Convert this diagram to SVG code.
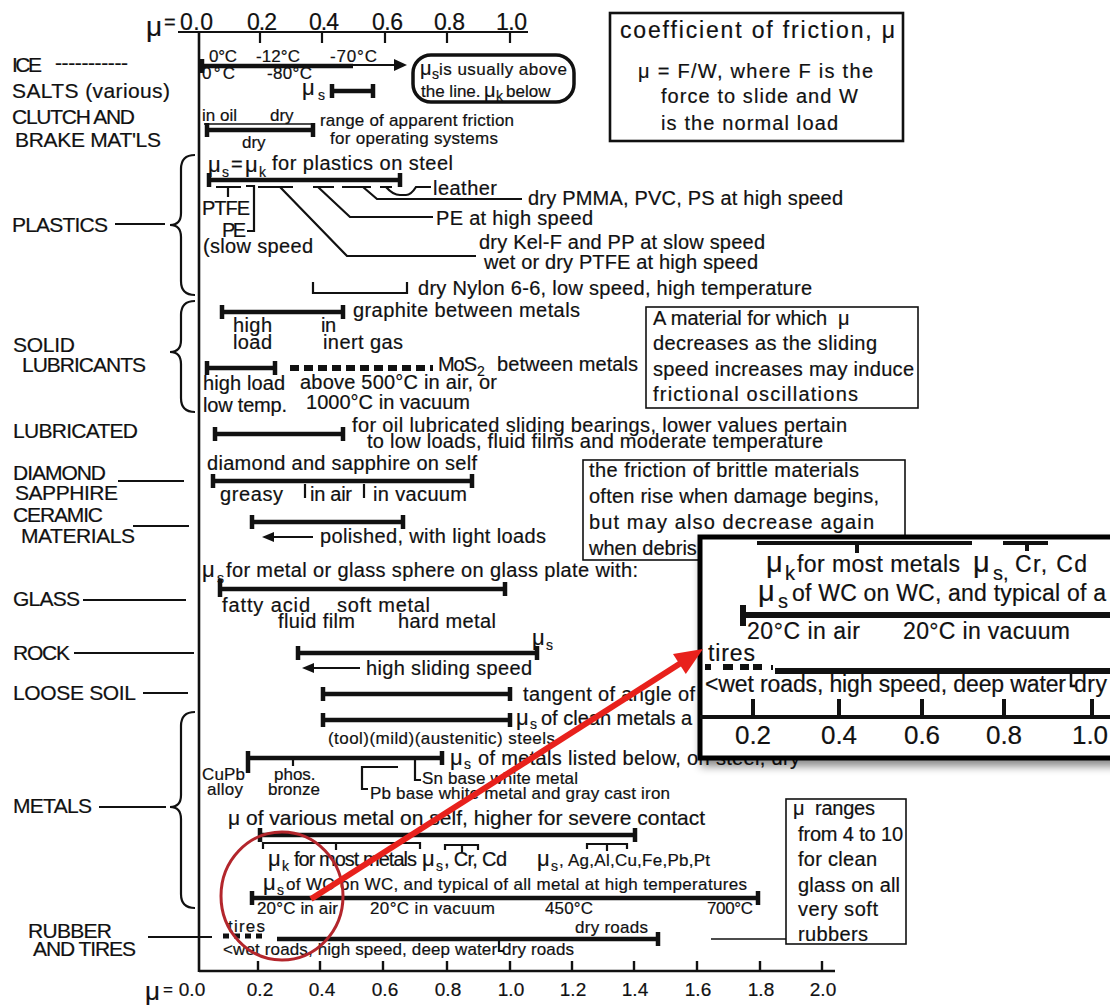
<svg xmlns="http://www.w3.org/2000/svg" width="1110" height="1006" viewBox="0 0 1110 1006">
<defs>
<style>
text{font-family:"Liberation Sans",Arial,Helvetica,sans-serif;fill:#111;stroke:#111;stroke-width:0.2px;}
.lab{font-size:21px;}
.t{font-size:20px;}
.s{font-size:17px;}
.mu{font-size:22px;}
.sub{font-size:14px;}
.bar{stroke:#111;stroke-width:4.5;fill:none;}
.ln{stroke:#111;stroke-width:2.2;fill:none;}
.th{stroke:#111;stroke-width:1.5;fill:none;}
.box{fill:#fff;stroke:#111;stroke-width:1.6;}
.in{font-size:23px;}
.inmu{font-size:29px;}
.insub{font-size:20px;}
</style>
<filter id="sh" x="-10%" y="-10%" width="130%" height="140%"><feDropShadow dx="3" dy="6" stdDeviation="4" flood-color="#000" flood-opacity="0.45"/></filter>
</defs>
<rect width="1110" height="1006" fill="#fff"/>

<g id="axes">
<text x="146" y="36" style="font-size:28px">μ</text>
<text x="164" y="29" style="font-size:20px">=</text>
<path class="ln" d="M178 32H528M260 32V43M322 32V43M385 32V43M447 32V43M510 32V43"/>
<text x="180" y="30" style="font-size:23px" textLength="33">0.0</text>
<text x="247" y="30" style="font-size:23px" textLength="30">0.2</text>
<text x="309" y="30" style="font-size:23px" textLength="30">0.4</text>
<text x="372" y="30" style="font-size:23px" textLength="31">0.6</text>
<text x="434" y="30" style="font-size:23px" textLength="31">0.8</text>
<text x="496" y="30" style="font-size:23px" textLength="31">1.0</text>
<path d="M199 32V972" stroke="#111" stroke-width="2.6"/>
<path d="M199 971H835M258 961V971M320 961V971M383 961V971M447 961V971M510 961V971M572 961V971M634 961V971M697 961V971M760 961V971M822 961V971" stroke="#111" stroke-width="2.4" fill="none"/>
<text x="145" y="1000" style="font-size:26px">μ</text>
<text x="163" y="995" style="font-size:17px">=</text>
<g style="font-size:19px" text-anchor="middle">
<text x="192" y="996">0.0</text><text x="260" y="996">0.2</text><text x="322" y="996">0.4</text><text x="385" y="996">0.6</text><text x="448" y="996">0.8</text><text x="511" y="996">1.0</text><text x="573" y="996">1.2</text><text x="635" y="996">1.4</text><text x="698" y="996">1.6</text><text x="761" y="996">1.8</text><text x="823" y="996">2.0</text>
</g>
</g>

<g id="labels">
<text class="lab" x="12" y="72" textLength="30">ICE</text>
<text class="lab" x="55" y="70" textLength="73">-----------</text>
<text class="lab" x="12" y="98" textLength="158">SALTS  (various)</text>
<text class="lab" x="12" y="124" textLength="123">CLUTCH AND</text>
<text class="lab" x="15" y="147" textLength="146">BRAKE MAT'LS</text>
<text class="lab" x="12" y="232" textLength="96">PLASTICS</text>
<path class="ln" d="M115 224H165"/>
<text class="lab" x="13" y="352" textLength="62">SOLID</text>
<text class="lab" x="22" y="372" textLength="124">LUBRICANTS</text>
<text class="lab" x="13" y="438" textLength="125">LUBRICATED</text>
<text class="lab" x="13" y="480" textLength="93">DIAMOND</text>
<text class="lab" x="15" y="500" textLength="103">SAPPHIRE</text>
<path class="ln" d="M118 481H184"/>
<text class="lab" x="13" y="522" textLength="90">CERAMIC</text>
<text class="lab" x="21" y="543" textLength="114">MATERIALS</text>
<path class="ln" d="M133 526H189"/>
<text class="lab" x="13" y="606" textLength="67">GLASS</text>
<path class="ln" d="M83 600H186"/>
<text class="lab" x="13" y="660" textLength="57">ROCK</text>
<path class="ln" d="M74 653H194"/>
<text class="lab" x="13" y="700" textLength="123">LOOSE SOIL</text>
<path class="ln" d="M143 693H188"/>
<text class="lab" x="13" y="813" textLength="79">METALS</text>
<path class="ln" d="M99 807H166"/>
<text class="lab" x="28" y="938" textLength="84">RUBBER</text>
<text class="lab" x="33" y="956" textLength="103">AND TIRES</text>
<path class="ln" d="M148 937H212"/>
<path class="ln" d="M195 155Q181 155 181 169L181 213Q181 225 170 225Q181 225 181 237L181 281Q181 295 195 295"/>
<path class="ln" d="M195 301Q181 301 181 315L181 340Q181 352 170 352Q181 352 181 364L181 398Q181 412 195 412"/>
<path class="ln" d="M195 712Q181 712 181 726L181 795Q181 807 170 807Q181 807 181 819L181 894Q181 908 195 908"/>
</g>

<g id="legend">
<rect x="610" y="13" width="293" height="128" fill="#fff" stroke="#111" stroke-width="2.6"/>
<text x="620" y="38" style="font-size:23px" textLength="275">coefficient of friction, μ</text>
<text class="t" x="638" y="78" textLength="235">μ = F/W, where F is the</text>
<text class="t" x="661" y="103" textLength="197">force to slide and W</text>
<text class="t" x="661" y="130" textLength="177">is the normal load</text>
</g>

<g id="ice">
<text class="s" x="209" y="62" textLength="28">0°C</text>
<text class="s" x="256" y="62" textLength="44">-12°C</text>
<text class="s" x="330" y="62" textLength="47">-70°C</text>
<path class="bar" d="M200 66H353M202 59V73"/>
<path class="ln" d="M353 65H397" stroke-width="2.6"/>
<polygon points="407,65 394,59 394,71" fill="#111"/>
<text class="s" x="202" y="79" textLength="33">0°C</text>
<text class="s" x="267" y="79" textLength="45">-80°C</text>
<rect x="413" y="55" width="161" height="47" rx="18" fill="none" stroke="#111" stroke-width="3.5"/>
<text class="t" x="420" y="75">μ</text>
<text class="sub" x="432" y="79">s</text>
<text class="s" x="439" y="75" textLength="128">is usually above</text>
<text class="s" x="421" y="97">the line.</text>
<text class="t" x="484" y="97">μ</text>
<text class="sub" x="496" y="101">k</text>
<text class="s" x="506" y="97">below</text>
</g>

<g id="salts">
<text class="mu" x="302" y="95">μ</text>
<text class="sub" x="318" y="100">s</text>
<path class="bar" d="M332 91H373M332 84V98M373 84V98"/>
</g>

<g id="clutch">
<text class="s" x="202" y="121">in oil</text>
<text class="s" x="270" y="121">dry</text>
<path class="th" d="M204 124H313"/>
<path class="bar" d="M207 130H313M207 123V137M313 123V137"/>
<text class="s" x="242" y="148">dry</text>
<text class="s" x="320" y="126" textLength="194">range of apparent friction</text>
<text class="s" x="330" y="144" textLength="168">for operating systems</text>
</g>

<g id="plastics">
<text class="mu" x="208" y="172">μ</text>
<text class="sub" x="222" y="177">s</text>
<text class="t" x="231" y="171">=</text>
<text class="mu" x="245" y="172">μ</text>
<text class="sub" x="259" y="177">k</text>
<text class="t" x="272" y="170" textLength="181">for plastics on steel</text>
<path class="bar" d="M209 180H400M209 173V187M400 173V187"/>
<path class="ln" d="M216 187H241M258 187H293M313 187H334M342 187H371M380 187H392" stroke-width="2.6"/>
<path class="ln" d="M228 187V197M246 186H254V231H247"/>
<text class="t" x="202" y="215" textLength="48">PTFE</text>
<text class="t" x="222" y="237" textLength="24">PE</text>
<text class="t" x="203" y="253" textLength="110">(slow speed</text>
<path class="ln" d="M280 187L347 256H476M318 187L350 217H433M363 187L377 199H522M386 187Q393 195 400 195H406Q411 195 416 187H431"/>
<text class="t" x="433" y="195" textLength="64">leather</text>
<text class="t" x="528" y="205" textLength="315">dry PMMA, PVC, PS at high speed</text>
<text class="t" x="436" y="225" textLength="157">PE at high speed</text>
<text class="t" x="479" y="249" textLength="286">dry Kel-F and PP at slow speed</text>
<text class="t" x="484" y="269" textLength="274">wet or dry PTFE at high speed</text>
<path class="ln" d="M313 282V293H407V282"/>
<text class="t" x="418" y="295" textLength="394">dry Nylon 6-6, low speed, high temperature</text>
</g>

<g id="solid-lubricants">
<path class="bar" d="M222 312H343M222 305V319M343 305V319"/>
<text class="t" x="353" y="317" textLength="227">graphite between metals</text>
<text class="t" x="233" y="332" textLength="39">high</text>
<text class="t" x="233" y="349" textLength="39">load</text>
<text class="t" x="321" y="332" textLength="15">in</text>
<text class="t" x="323" y="349" textLength="80">inert gas</text>
<path class="bar" d="M207 368H275M207 361V375M275 361V375"/>
<path d="M290 368H433" stroke="#111" stroke-width="6" stroke-dasharray="9 5"/>
<text class="t" x="438" y="371" textLength="39">MoS</text>
<text class="sub" x="477" y="376">2</text>
<text class="t" x="497" y="371" textLength="141">between metals</text>
<text class="t" x="203" y="390" textLength="82">high load</text>
<text class="t" x="203" y="412" textLength="84">low temp.</text>
<text class="t" x="300" y="389" textLength="197">above 500°C in air, or</text>
<text class="t" x="306" y="409" textLength="164">1000°C in vacuum</text>
<rect class="box" x="646" y="307" width="272" height="101"/>
<text class="t" x="653" y="325" textLength="174">A material for which</text>
<text class="t" x="838" y="325">μ</text>
<text class="t" x="653" y="350" textLength="224">decreases as the sliding</text>
<text class="t" x="653" y="376" textLength="261">speed increases may induce</text>
<text class="t" x="653" y="401" textLength="205">frictional  oscillations</text>
</g>

<g id="lubricated">
<path class="bar" d="M215 434H343M215 427V441M343 427V441"/>
<text class="t" x="352" y="432" textLength="495">for oil lubricated sliding bearings, lower values pertain</text>
<text class="t" x="367" y="448" textLength="456">to low loads, fluid films and moderate temperature</text>
</g>

<g id="diamond">
<text class="t" x="207" y="470" textLength="270">diamond and sapphire on self</text>
<path class="bar" d="M213 481H472M213 474V488M472 474V488"/>
<path class="ln" d="M305 484V498M364 484V498" stroke-width="3"/>
<text class="t" x="220" y="501" textLength="63">greasy</text>
<text class="t" x="310" y="501" textLength="42">in air</text>
<text class="t" x="373" y="501" textLength="94">in vacuum</text>
<rect class="box" x="583" y="460" width="322" height="100"/>
<text class="t" x="589" y="477" textLength="270">the friction of brittle materials</text>
<text class="t" x="589" y="503" textLength="290">often rise when damage begins,</text>
<text class="t" x="589" y="529" textLength="285">but may also decrease again</text>
<text class="t" x="589" y="555">when debris</text>
</g>

<g id="ceramic">
<path class="bar" d="M252 522H403M252 515V529M403 515V529"/>
<path class="ln" d="M272 537H313"/>
<polygon points="262,537 274,532 274,542" fill="#111"/>
<text class="t" x="320" y="543" textLength="226">polished, with light loads</text>
</g>

<g id="glass">
<text class="mu" x="202" y="577">μ</text>
<text class="sub" x="217" y="583">s</text>
<text class="t" x="226" y="577" textLength="412">for metal or glass sphere on glass plate with:</text>
<path class="bar" d="M220 589H505M220 579V597M505 582V596"/>
<text class="t" x="222" y="612" textLength="88">fatty acid</text>
<text class="t" x="337" y="612" textLength="93">soft metal</text>
<text class="t" x="278" y="628" textLength="77">fluid film</text>
<text class="t" x="398" y="628" textLength="98">hard metal</text>
</g>

<g id="rock">
<text class="mu" x="532" y="645">μ</text>
<text class="sub" x="546" y="650">s</text>
<path class="bar" d="M298 653H537M298 646V660M537 646V660"/>
<path class="ln" d="M312 668H360"/>
<polygon points="302,668 314,663 314,673" fill="#111"/>
<text class="t" x="366" y="675" textLength="166">high sliding speed</text>
</g>

<g id="loose-soil">
<path class="bar" d="M323 694H510M323 687V701M510 687V701"/>
<text class="t" x="523" y="701" textLength="172">tangent of angle of</text>
</g>

<g id="metals">
<path class="bar" d="M323 720H510M323 713V727M510 713V727"/>
<text class="mu" x="516" y="725">μ</text>
<text class="sub" x="530" y="729">s</text>
<text class="t" x="541" y="725">of clean metals a</text>
<text class="s" x="328" y="744" textLength="227">(tool)(mild)(austenitic) steels</text>
<path class="bar" d="M248 758H442M248 751V773M442 751V765"/>
<path class="ln" d="M293 758V766"/>
<text class="mu" x="450" y="765">μ</text>
<text class="sub" x="464" y="769">s</text>
<text class="t" x="478" y="765" textLength="322">of metals listed below, on steel, dry</text>
<path class="ln" d="M398 767H362V789H368M415 760V780H421"/>
<text class="s" x="422" y="784" textLength="156">Sn base white metal</text>
<text class="s" x="370" y="799" textLength="300">Pb base white metal and gray cast iron</text>
<text class="s" x="202" y="780" textLength="43">CuPb</text>
<text class="s" x="207" y="795" textLength="36">alloy</text>
<text class="s" x="274" y="780">phos.</text>
<text class="s" x="268" y="795" textLength="52">bronze</text>
<text x="228" y="825" style="font-size:21px" textLength="477">μ of various metal on self, higher for severe contact</text>
<path class="bar" d="M260 835H635M260 828V842M635 828V842"/>
<path class="ln" d="M263 849V843H420V849M336 843V850M445 850V845H478V850M462 845V852M587 849V844H627V849M607 844V851"/>
<text class="mu" x="268" y="866">μ</text>
<text class="sub" x="282" y="871">k</text>
<text class="t" x="294" y="866" textLength="123">for most metals</text>
<text class="mu" x="422" y="866">μ</text>
<text class="sub" x="436" y="871">s</text>
<text class="t" x="444" y="866" textLength="63">, Cr, Cd</text>
<text class="mu" x="537" y="866">μ</text>
<text class="sub" x="551" y="871">s</text>
<text class="s" x="559" y="866" textLength="151">, Ag,Al,Cu,Fe,Pb,Pt</text>
<text class="mu" x="263" y="890">μ</text>
<text class="sub" x="277" y="895">s</text>
<text class="s" x="286" y="890" textLength="461">of WC on WC, and typical of all metal at high temperatures</text>
<path class="bar" d="M252 898H758M252 891V905M758 891V905"/>
<text class="s" x="257" y="914" textLength="81">20°C in air</text>
<text class="s" x="370" y="914" textLength="125">20°C in vacuum</text>
<text class="s" x="545" y="914" textLength="48">450°C</text>
<text class="s" x="707" y="914" textLength="46">700°C</text>
</g>

<g id="rubber">
<text class="s" x="228" y="932" textLength="37">tires</text>
<path d="M223 936H266" stroke="#111" stroke-width="5" stroke-dasharray="6 5"/>
<path class="bar" d="M277 939H658M658 932V946"/>
<path class="ln" d="M499 941V951H504"/>
<text class="s" x="575" y="933" textLength="73">dry roads</text>
<text class="s" x="223" y="955" textLength="351">&lt;wet roads, high speed, deep water dry roads</text>
<path class="th" d="M711 939H786"/>
<rect class="box" x="786" y="799" width="120" height="145"/>
<text class="t" x="793" y="815">μ</text>
<text class="t" x="815" y="815" textLength="60">ranges</text>
<text class="t" x="798" y="841" textLength="105">from 4 to 10</text>
<text class="t" x="798" y="866" textLength="79">for clean</text>
<text class="t" x="798" y="892" textLength="102">glass on all</text>
<text class="t" x="798" y="916" textLength="80">very soft</text>
<text class="t" x="798" y="941" textLength="70">rubbers</text>
</g>

<g id="inset">
<rect x="700" y="537" width="430" height="221" fill="#fff" stroke="#000" stroke-width="5" filter="url(#sh)"/>
<path d="M757 543H972M857 543V553M1003 543H1048M1027 543V551" stroke="#111" stroke-width="4" fill="none"/>
<text class="inmu" x="766" y="572">μ</text>
<text class="insub" x="785" y="580">k</text>
<text class="in" x="797" y="572" textLength="163">for most metals</text>
<text class="inmu" x="973" y="572">μ</text>
<text class="insub" x="993" y="580">s,</text>
<text class="in" x="1015" y="572" textLength="72">Cr, Cd</text>
<text class="inmu" x="758" y="601">μ</text>
<text class="insub" x="778" y="608">s</text>
<text class="in" x="792" y="601" textLength="314">of WC on WC, and typical of a</text>
<path d="M743 615H1110M743 605V626" stroke="#111" stroke-width="6" fill="none"/>
<text class="in" x="747" y="639" textLength="113">20°C in air</text>
<text class="in" x="903" y="639" textLength="167">20°C in vacuum</text>
<text class="in" x="708" y="661" textLength="47">tires</text>
<path d="M705 667H711M723 667H733M740 667H749M753 667H762" stroke="#111" stroke-width="6" fill="none"/>
<path d="M772 665V670" stroke="#111" stroke-width="2"/>
<path d="M775 671H1110" stroke="#111" stroke-width="6" fill="none"/>
<text class="in" x="705" y="692" textLength="361">&lt;wet roads, high speed, deep water</text>
<text class="in" x="1074" y="692" textLength="33">dry</text>
<path d="M1071 673V686H1075" stroke="#111" stroke-width="2.5" fill="none"/>
<path d="M700 717H1110M753 699V717M839 699V717M922 699V717M1004 699V717M1092 699V717" stroke="#111" stroke-width="4" fill="none"/>
<g style="font-size:26px" text-anchor="middle">
<text x="753" y="744">0.2</text><text x="839" y="744">0.4</text><text x="922" y="744">0.6</text><text x="1004" y="744">0.8</text><text x="1090" y="744">1.0</text>
</g>
</g>

<g id="connectors">
<ellipse cx="282" cy="896" rx="61" ry="64" fill="none" stroke="#b3262c" stroke-width="3"/>
<path d="M311 899L684 661" stroke="#e8211c" stroke-width="6" fill="none"/>
<polygon points="703,649 685.8,674.1 673,653.9" fill="#e8211c"/>
</g>
</svg>
